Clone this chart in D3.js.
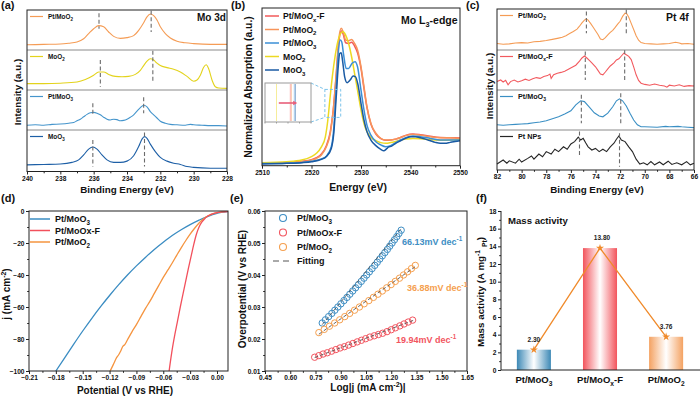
<!DOCTYPE html>
<html>
<head>
<meta charset="utf-8">
<script src="https://cdn.jsdelivr.net/npm/d3@7"></script>
<style>
  body { margin: 0; background: #fff; }
  svg { display: block; font-family: "Liberation Sans", Arial, sans-serif; font-weight: bold; }
</style>
</head>
<body>
<svg id="fig" width="700" height="397"></svg>
<script>
const FONT = '"Liberation Sans", Arial, sans-serif';

// ---------- (a) Mo 3d XPS, [binding energy, intensity a.u.] ----------
const aPtMoO2 = [[240,13],[239,14],[238,15],[237.5,17],[237,20],[236.6,28],[236.3,41],[236.0,53],[235.7,61],[235.4,58],[235.1,45],[234.8,34],[234.4,29],[234.0,31],[233.6,36],[233.3,49],[233.0,68],[232.8,83],[232.6,90],[232.4,86],[232.2,75],[232.0,58],[231.7,41],[231.4,30],[231.0,22],[230.5,18],[230,16],[229,14],[228,14]];
const aMoO2 = [[240,16],[239,16],[238,17],[237,20],[236.5,26],[236.0,37],[235.7,45],[235.4,45],[235.1,39],[234.7,34],[234.3,33],[233.9,34],[233.5,39],[233.2,49],[233.0,61],[232.8,72],[232.6,78],[232.4,75],[232.2,67],[232.0,61],[231.6,56],[231.2,52],[230.8,45],[230.4,34],[230.0,22],[229.8,25],[229.6,37],[229.4,57],[229.25,63],[229.1,53],[228.9,25],[228.7,8],[228.5,5],[228,4]];
const aPtMoO3 = [[240,12],[239.5,13],[239,12],[238.5,14],[238,15],[237.5,17],[237.2,19],[237,23],[236.8,27],[236.6,33],[236.4,39],[236.2,43],[236.0,44],[235.8,42],[235.6,38],[235.4,32],[235.2,27],[235.0,25],[234.8,27],[234.6,26],[234.4,23],[234.2,24],[234.0,27],[233.8,32],[233.6,38],[233.4,47],[233.2,56],[233.0,62],[232.8,58],[232.6,46],[232.4,38],[232.2,30],[232.0,22],[231.7,17],[231.4,14],[231.0,13],[230.5,12],[230.2,14],[230,13],[229.5,12],[229,11],[228.5,11],[228,10]];
const aMoO3 = [[240,16],[239,17],[238,18],[237.3,22],[236.9,28],[236.6,40],[236.3,54],[236.05,59],[235.8,54],[235.5,40],[235.2,28],[234.8,22],[234.4,22],[234.0,25],[233.6,38],[233.3,60],[233.1,78],[232.95,84],[232.8,80],[232.6,66],[232.3,48],[232.0,34],[231.6,25],[231.2,20],[230.8,17],[230.4,12],[230,10],[229,8],[228,8]];
// dashed peak markers [energy, top, bottom]
const aDashes = [
  [[235.68,92,53],[232.55,98,45]],
  [[235.6,75,8],[232.45,98,20]],
  [[236.05,67,35],[233.0,82,42]],
  [[236.05,76,12],[232.95,94,12]]
];
const aNames = ["Pt/MoO_{2}", "MoO_{2}", "Pt/MoO_{3}", "MoO_{3}"];
const aTicks = [240,238,236,234,232,230,228];
const aMinor = [239,237,235,233,231,229];

// ---------- (b) Mo L3-edge XANES, [energy eV, normalized absorption] ----------
const bPtMoOxF = [[2510,0],[2515,0.04],[2518,0.09],[2520,0.16],[2521,0.24],[2522,0.40],[2523,0.76],[2523.8,1.36],[2524.4,2.29],[2525,3.79],[2525.5,5.14],[2526,5.69],[2526.4,5.54],[2526.9,5.17],[2527.5,5.14],[2528.1,5.19],[2528.7,5.03],[2529.3,4.74],[2530,4.07],[2530.6,3.21],[2531.2,2.40],[2532,1.69],[2533,1.26],[2534,1.06],[2535,0.99],[2536,1.00],[2537,1.04],[2538,1.11],[2539,1.20],[2540.5,1.26],[2542,1.23],[2544,1.16],[2546,1.11],[2548,1.10],[2550,1.09]];
const bPtMoO2 = [[2510,0],[2515,0.03],[2518,0.07],[2520,0.14],[2521,0.21],[2522,0.36],[2523,0.71],[2523.8,1.29],[2524.4,2.29],[2525,3.86],[2525.5,5.29],[2526,5.79],[2526.4,5.64],[2526.9,5.29],[2527.5,5.26],[2528.1,5.31],[2528.7,5.14],[2529.3,4.86],[2530,4.14],[2530.6,3.29],[2531.2,2.43],[2532,1.71],[2533,1.29],[2534,1.07],[2535,1.00],[2536,1.00],[2537,1.04],[2538,1.11],[2539,1.19],[2540.5,1.24],[2542,1.21],[2544,1.14],[2546,1.10],[2548,1.10],[2550,1.07]];
const bPtMoO3 = [[2510,-0.01],[2515,0.01],[2518,0.04],[2520,0.09],[2522,0.19],[2523,0.31],[2524,0.71],[2524.5,1.50],[2525,3.29],[2525.4,4.71],[2525.8,5.29],[2526.1,5.21],[2526.5,4.64],[2527,4.07],[2527.5,4.07],[2528.2,4.29],[2528.8,4.36],[2529.3,4.14],[2530,3.14],[2530.6,2.29],[2531.2,1.64],[2532,1.21],[2533,0.93],[2534,0.79],[2535,0.71],[2536,0.76],[2537,0.89],[2538,1.00],[2539,1.10],[2540.5,1.17],[2542,1.14],[2544,1.07],[2546,1.00],[2548,1.00],[2550,1.00]];
const bMoO2 = [[2510,0.03],[2515,0.07],[2518,0.14],[2520,0.29],[2521,0.43],[2522,0.71],[2522.8,1.14],[2523.3,1.86],[2523.7,2.71],[2524.2,3.71],[2524.8,4.64],[2525.4,5.29],[2526,5.60],[2526.4,5.64],[2526.9,5.50],[2527.5,5.14],[2528.1,4.57],[2528.7,3.86],[2529.3,3.14],[2530,2.29],[2530.6,1.71],[2531.2,1.36],[2532,1.11],[2533,0.97],[2534,0.89],[2535,0.86],[2536,0.89],[2537,0.94],[2538,1.00],[2539,1.04],[2540.5,1.07],[2542,1.06],[2544,1.01],[2546,0.99],[2548,1.00],[2550,1.01]];
const bMoO3 = [[2510,-0.03],[2515,0],[2518,0.03],[2520,0.07],[2522,0.17],[2523,0.29],[2524,0.64],[2524.5,1.29],[2525,2.86],[2525.4,4.14],[2525.7,4.71],[2526,4.74],[2526.3,4.36],[2526.7,3.71],[2527.2,3.46],[2527.8,3.57],[2528.4,3.74],[2528.9,3.71],[2529.4,3.36],[2530,2.57],[2530.6,1.86],[2531.2,1.36],[2532,1.00],[2533,0.76],[2534,0.60],[2534.6,0.54],[2535.2,0.63],[2535.6,0.71],[2536.2,0.74],[2537,0.86],[2538,0.97],[2539,1.07],[2540,1.14],[2541,1.14],[2542,1.10],[2543,1.04],[2544,0.97],[2545,0.90],[2546,0.86],[2547,0.86],[2548,0.90],[2549,0.94],[2550,0.97]];
const bNames = ["Pt/MoO_{x}-F", "Pt/MoO_{2}", "Pt/MoO_{3}", "MoO_{2}", "MoO_{3}"];
const bEdges = [2524.2, 2524.3, 2524.55, 2523.0, 2524.65]; // inset edge positions, same order
const bZoomBox = [2522.7, 2525.9, 1.97, 3.17];
const bTicks = [2510,2520,2530,2540,2550];
const bMinor = [2515,2525,2535,2545];

// ---------- (c) Pt 4f XPS ----------
const cPtMoO2 = [[82,16],[81.5,14],[81,15],[80.5,17],[80,18],[79.5,17],[79,20],[78.5,21],[78,23],[77.5,26],[77,29],[76.7,31],[76.4,35],[76.1,40],[75.8,45],[75.5,51],[75.3,58],[75.1,66],[74.9,73],[74.75,76],[74.6,73],[74.4,65],[74.2,56],[74.0,47],[73.8,38],[73.6,27],[73.4,25],[73.2,30],[73.0,37],[72.8,43],[72.6,48],[72.4,55],[72.2,63],[72.0,70],[71.8,82],[71.6,90],[71.45,88],[71.3,80],[71.1,65],[70.9,50],[70.7,35],[70.5,24],[70.3,18],[70,16],[69.5,15],[69,14],[68.5,15],[68,16],[67.5,19],[67.2,17],[67,15],[66.5,16],[66,14]];
const cPtMoOxF = [[82,21],[81.7,25],[81.5,20],[81.3,24],[81.1,13],[80.9,21],[80.6,25],[80.3,20],[80,23],[79.7,27],[79.4,24],[79.1,28],[78.8,31],[78.5,29],[78.2,34],[77.9,36],[77.7,40],[77.6,29],[77.4,38],[77.1,42],[76.8,44],[76.5,47],[76.2,52],[75.9,57],[75.6,62],[75.3,72],[75.1,80],[74.9,85],[74.7,80],[74.5,74],[74.3,68],[74.0,58],[73.8,49],[73.6,40],[73.4,38],[73.2,45],[73.0,53],[72.8,60],[72.5,68],[72.3,75],[72.1,78],[71.9,85],[71.7,92],[71.5,88],[71.3,84],[71.1,76],[70.9,58],[70.7,38],[70.5,24],[70.3,17],[70,14],[69.6,12],[69.2,15],[68.8,12],[68.4,10],[68.2,7],[68,12],[67.6,10],[67.2,13],[66.8,9],[66.4,11],[66,10]];
const cPtMoO3 = [[82,13],[81.5,12],[81,13],[80.5,14],[80,15],[79.5,16],[79,18],[78.5,20],[78,23],[77.5,28],[77,33],[76.5,40],[76,48],[75.6,63],[75.2,73],[74.9,71],[74.5,57],[74.1,43],[73.7,35],[73.4,33],[73.0,42],[72.6,58],[72.3,73],[72.05,78],[71.8,73],[71.5,60],[71.2,42],[70.9,25],[70.6,13],[70.3,8],[70,8],[69,7],[68.3,9],[68,8],[67.3,9],[67,8],[66.5,7],[66,6]];
const cPtNPs = [[82,15],[81.5,25],[81.2,17],[81,23],[80.5,17],[80.2,27],[80,20],[79.5,29],[79.2,35],[79,27],[78.6,40],[78.3,33],[78,46],[77.6,40],[77.3,52],[77,46],[76.6,58],[76.3,52],[76,65],[75.7,71],[75.4,82],[75.2,75],[75.0,79],[74.8,68],[74.6,58],[74.3,50],[74.0,54],[73.7,46],[73.4,52],[73.1,46],[72.8,58],[72.5,67],[72.3,77],[72.1,85],[71.9,75],[71.6,71],[71.3,58],[71.0,46],[70.7,27],[70.4,15],[70.1,18],[69.8,13],[69.5,21],[69.2,13],[68.8,20],[68.5,13],[68.1,22],[67.8,14],[67.4,18],[67.0,13],[66.6,21],[66.3,13],[66.0,17]];
const cDashes = [
  [[74.74,94,41],[71.5,98,37]],
  [[74.83,96,25],[71.63,100,25]],
  [[75.15,88,17],[71.95,92,13]],
  [[75.3,96,33],[72.05,92,8]]
];
const cNames = ["Pt/MoO_{2}", "Pt/MoO_{x}-F", "Pt/MoO_{3}", "Pt NPs"];
const cTicks = [82,80,78,76,74,72,70,68,66];
const cMinor = [81,79,77,75,73,71,69,67];

// ---------- (d) LSV, [potential V vs RHE, j mA cm-2] ----------
const dPtMoO3 = [[0.012,-0.3],[0.005,-0.8],[0,-1.5],[-0.005,-2.3],[-0.01,-3.3],[-0.015,-4.4],[-0.02,-5.7],[-0.03,-8.5],[-0.04,-11.7],[-0.05,-15.3],[-0.06,-19.5],[-0.07,-24],[-0.08,-29],[-0.09,-34.3],[-0.1,-40],[-0.11,-46.2],[-0.12,-52.8],[-0.13,-59.8],[-0.14,-67.2],[-0.15,-75],[-0.16,-83.2],[-0.17,-91.6],[-0.18,-100]];
const dPtMoOxF = [[0.012,-0.3],[0.005,-0.6],[0,-1],[-0.005,-1.8],[-0.008,-2.5],[-0.011,-3.5],[-0.014,-5],[-0.017,-7],[-0.02,-10],[-0.023,-14.5],[-0.026,-21],[-0.029,-28.5],[-0.032,-36],[-0.035,-44],[-0.038,-52],[-0.041,-60],[-0.044,-68.5],[-0.047,-77],[-0.05,-86.5],[-0.053,-98],[-0.0535,-100]];
const dPtMoO2 = [[0.012,-0.2],[0.005,-0.5],[0,-1],[-0.005,-1.8],[-0.01,-3],[-0.015,-4.8],[-0.02,-7.5],[-0.025,-10.8],[-0.03,-14.5],[-0.035,-18.6],[-0.04,-23],[-0.045,-27.7],[-0.05,-32.5],[-0.055,-37],[-0.06,-41.5],[-0.065,-46.5],[-0.07,-51.5],[-0.075,-56.5],[-0.08,-61],[-0.085,-66],[-0.09,-71],[-0.095,-75.5],[-0.1,-80.5],[-0.103,-83.5],[-0.105,-84.5],[-0.108,-88],[-0.11,-90],[-0.112,-91.5],[-0.115,-95],[-0.118,-98.5],[-0.1195,-100]];
const dNames = ["Pt/MoO_{3}", "Pt/MoOx-F", "Pt/MoO_{2}"];
const dTicksX = [-0.21,-0.18,-0.15,-0.12,-0.09,-0.06,-0.03,0];
const dMinorX = [-0.195,-0.165,-0.135,-0.105,-0.075,-0.045,-0.015];
const dTicksY = [0,-20,-40,-60,-80,-100];
const dMinorY = [-10,-30,-50,-70,-90];

// ---------- (e) Tafel, [log|j|, overpotential V] ----------
const ePtMoO3 = [[0.790,0.025],[0.809,0.026],[0.828,0.027],[0.847,0.028],[0.865,0.029],[0.883,0.030],[0.901,0.031],[0.919,0.032],[0.937,0.033],[0.954,0.034],[0.971,0.035],[0.988,0.036],[1.005,0.037],[1.022,0.038],[1.038,0.039],[1.054,0.040],[1.070,0.041],[1.086,0.042],[1.102,0.043],[1.117,0.044],[1.132,0.045],[1.147,0.046],[1.162,0.047],[1.177,0.048],[1.191,0.049],[1.205,0.050],[1.219,0.051],[1.233,0.052],[1.246,0.053],[1.259,0.054]];
const ePtMoOxF = [[0.745,0.0143],[0.770,0.0148],[0.795,0.0153],[0.820,0.0157],[0.846,0.0162],[0.871,0.0167],[0.896,0.0172],[0.922,0.0176],[0.947,0.0181],[0.972,0.0186],[0.998,0.0191],[1.023,0.0196],[1.048,0.0201],[1.073,0.0206],[1.099,0.0210],[1.124,0.0214],[1.149,0.0218],[1.175,0.0223],[1.200,0.0229],[1.225,0.0235],[1.251,0.0241],[1.276,0.0247],[1.301,0.0253],[1.327,0.0259]];
const ePtMoO2 = [[0.770,0.022],[0.802,0.023],[0.833,0.024],[0.864,0.025],[0.894,0.026],[0.924,0.027],[0.953,0.028],[0.982,0.029],[1.011,0.030],[1.039,0.031],[1.067,0.032],[1.094,0.033],[1.121,0.034],[1.147,0.035],[1.173,0.036],[1.199,0.037],[1.224,0.038],[1.249,0.039],[1.273,0.040],[1.297,0.041],[1.320,0.042],[1.343,0.043]];
const eFits = [[[0.79,0.0245],[1.26,0.0545]], [[0.745,0.0142],[1.33,0.0258]], [[0.77,0.0215],[1.34,0.0425]]];
const eSlopes = ["66.13mV dec^{-1}", "19.94mV dec^{-1}", "36.88mV dec^{-1}"];
const eNames = ["Pt/MoO_{3}", "Pt/MoOx-F", "Pt/MoO_{2}"];
const eTicksX = [0.45,0.60,0.75,0.90,1.05,1.20,1.35,1.50,1.65];
const eMinorX = [0.525,0.675,0.825,0.975,1.125,1.275,1.425,1.575];
const eTicksY = [0.01,0.02,0.03,0.04,0.05,0.06];
const eMinorY = [0.015,0.025,0.035,0.045,0.055];

// ---------- (f) mass activity ----------
const fCats = ["Pt/MoO_{3}", "Pt/MoO_{x}-F", "Pt/MoO_{2}"];
const fVals = [2.30, 13.80, 3.76];
const fTicksY = [0,2,4,6,8,10,12,14,16,18];
const fMinorY = [1,3,5,7,9,11,13,15,17];

// ---------- colours ----------
const C = {
  orange: "#f59c55", yellow: "#e3d31c", lblue: "#4595cc", dblue: "#1d5fa6",
  red: "#f2545c", black: "#262626", dorange: "#f08a2a"
};

const svg = d3.select("#fig");
svg.append("rect").attr("width", 700).attr("height", 397).attr("fill", "#fff");

// text with _{sub} and ^{sup}
function rich(sel, str, fs) {
  const parts = str.split(/(_\{[^}]*\}|\^\{[^}]*\})/).filter(Boolean);
  let cur = 0;
  parts.forEach(p => {
    let t = p, off = 0, size = fs;
    if (p.startsWith("_{")) { t = p.slice(2, -1); off = fs * 0.3; size = fs * 0.7; }
    else if (p.startsWith("^{")) { t = p.slice(2, -1); off = -fs * 0.42; size = fs * 0.7; }
    sel.append("tspan").attr("dy", off - cur).attr("font-size", size).text(t);
    cur = off;
  });
  return sel;
}

function label(x, y, str, fs, opt = {}) {
  const t = svg.append("text")
    .attr("transform", opt.rot ? `translate(${x},${y}) rotate(-90)` : `translate(${x},${y})`)
    .attr("text-anchor", opt.anchor || "start")
    .attr("fill", opt.color || "#111")
    .attr("font-size", fs);
  return rich(t, str, fs);
}

function axisB(x, y, majors, minors, fmt) {
  const g = svg.append("g").attr("transform", `translate(0,${y})`)
    .call(d3.axisBottom(x).tickValues(majors).tickSize(3).tickPadding(1.5).tickFormat(fmt));
  g.attr("font-family", FONT).attr("font-size", 6.6);
  g.select(".domain").remove();
  g.selectAll("text").attr("fill", "#111");
  g.selectAll("line").attr("stroke", "#222");
  if (minors) {
    const m = svg.append("g").attr("transform", `translate(0,${y})`)
      .call(d3.axisBottom(x).tickValues(minors).tickSize(1.8).tickFormat(""));
    m.select(".domain").remove();
    m.selectAll("line").attr("stroke", "#222");
  }
}

function axisL(y, x, majors, minors, fmt) {
  const g = svg.append("g").attr("transform", `translate(${x},0)`)
    .call(d3.axisLeft(y).tickValues(majors).tickSize(3).tickPadding(1.5).tickFormat(fmt));
  g.attr("font-family", FONT).attr("font-size", 6.6);
  g.select(".domain").remove();
  g.selectAll("text").attr("fill", "#111");
  g.selectAll("line").attr("stroke", "#222");
  if (minors) {
    const m = svg.append("g").attr("transform", `translate(${x},0)`)
      .call(d3.axisLeft(y).tickValues(minors).tickSize(1.8).tickFormat(""));
    m.select(".domain").remove();
    m.selectAll("line").attr("stroke", "#222");
  }
}

function frame(x0, y0, x1, y1) {
  svg.append("rect").attr("x", x0).attr("y", y0).attr("width", x1 - x0).attr("height", y1 - y0)
    .attr("fill", "none").attr("stroke", "#222").attr("stroke-width", 1);
}

// stacked XPS panel
function stacked(opt) {
  const x = d3.scaleLinear().domain(opt.domain).range(opt.xr);
  const rows = opt.rows;
  opt.series.forEach((s, i) => {
    const y = d3.scaleLinear().domain([0, 100]).range([rows[i + 1], rows[i]]);
    const line = d3.line().x(d => x(d[0])).y(d => y(d[1])).curve(opt.curve);
    svg.append("path").datum(s).attr("d", line).attr("fill", "none")
      .attr("stroke", opt.colors[i]).attr("stroke-width", 1.1);
    svg.selectAll(null).data(opt.dashes[i]).join("line")
      .attr("x1", d => x(d[0])).attr("x2", d => x(d[0]))
      .attr("y1", d => y(d[1])).attr("y2", d => y(d[2]))
      .attr("stroke", "#6b6b6b").attr("stroke-width", 1.1).attr("stroke-dasharray", "4,2.5");
    const ly = rows[i] + 6.5;
    svg.append("line").attr("x1", opt.xr[0] + 3).attr("x2", opt.xr[0] + 16)
      .attr("y1", ly).attr("y2", ly).attr("stroke", opt.colors[i]).attr("stroke-width", 1.2);
    label(opt.xr[0] + 21, ly + 2.5, opt.names[i], opt.legendFs);
  });
  rows.slice(1, -1).forEach(r => {
    svg.append("line").attr("x1", opt.xr[0]).attr("x2", opt.xr[1]).attr("y1", r).attr("y2", r)
      .attr("stroke", "#8a8a8a").attr("stroke-width", 1);
  });
  frame(opt.xr[0], rows[0], opt.xr[1], rows[rows.length - 1]);
  axisB(x, rows[rows.length - 1], opt.ticks, opt.minor, d3.format("d"));
}

// ---------- panel (a) ----------
stacked({
  domain: [240, 228], xr: [27, 227], rows: [10, 50, 90, 130, 171.5],
  series: [aPtMoO2, aMoO2, aPtMoO3, aMoO3], dashes: aDashes, names: aNames,
  colors: [C.orange, C.yellow, C.lblue, C.dblue], ticks: aTicks, minor: aMinor,
  legendFs: 6.4, curve: d3.curveMonotoneX
});
label(197, 21, "Mo 3d", 10);
label(21, 92, "Intensity (a.u.)", 9.8, { rot: true, anchor: "middle" });
label(127, 193, "Binding Energy (eV)", 9.8, { anchor: "middle" });
label(1, 9, "(a)", 11);

// ---------- panel (c) ----------
stacked({
  domain: [82, 66], xr: [497, 694], rows: [9, 50, 90, 130, 170],
  series: [cPtMoO2, cPtMoOxF, cPtMoO3, cPtNPs], dashes: cDashes, names: cNames,
  colors: [C.orange, "#f25a5f", "#3a8fc4", C.black], ticks: cTicks, minor: cMinor,
  legendFs: 7.2, curve: d3.curveLinear
});
label(666, 21, "Pt 4f", 10.5);
label(493, 86, "Intensity (a.u.)", 9.8, { rot: true, anchor: "middle" });
label(597, 193, "Binding Energy (eV)", 9.8, { anchor: "middle" });
label(466, 9, "(c)", 11);

// ---------- panel (b) ----------
{
  const x = d3.scaleLinear().domain([2510, 2550]).range([262, 460]);
  const y = d3.scaleLinear().domain([-0.1, 6.66]).range([165.7, 8]);
  const line = d3.line().x(d => x(d[0])).y(d => y(d[1])).curve(d3.curveMonotoneX);
  const series = [bPtMoOxF, bPtMoO2, bPtMoO3, bMoO2, bMoO3];
  const cols = ["#f25a5a", "#f7945a", "#3b8fd6", "#ecd923", "#1a5aa3"];
  [0, 1, 3, 2, 4].forEach(i => {
    svg.append("path").datum(series[i]).attr("d", line).attr("fill", "none")
      .attr("stroke", cols[i]).attr("stroke-width", 1.5);
  });
  frame(262, 8, 460, 165.7);
  axisB(x, 165.7, bTicks, bMinor, d3.format("d"));

  // zoom box + inset
  const zb = bZoomBox;
  const bx0 = x(zb[0]), bx1 = x(zb[1]), by0 = y(zb[3]), by1 = y(zb[2]);
  const dashC = "#7cc3ea";
  svg.append("rect").attr("x", bx0).attr("y", by0).attr("width", bx1 - bx0).attr("height", by1 - by0)
    .attr("fill", "none").attr("stroke", dashC).attr("stroke-width", 1).attr("stroke-dasharray", "3,2");
  const ix0 = 265, ix1 = 311, iy0 = 83, iy1 = 122;
  svg.append("line").attr("x1", ix1).attr("y1", iy0).attr("x2", bx0).attr("y2", by0)
    .attr("stroke", dashC).attr("stroke-dasharray", "3,2");
  svg.append("line").attr("x1", ix1).attr("y1", iy1).attr("x2", bx0).attr("y2", by1)
    .attr("stroke", dashC).attr("stroke-dasharray", "3,2");
  svg.append("rect").attr("x", ix0).attr("y", iy0).attr("width", ix1 - ix0).attr("height", iy1 - iy0)
    .attr("fill", "#fff").attr("stroke", "#9a9a9a").attr("stroke-width", 1);
  const xi = d3.scaleLinear().domain([2522, 2526]).range([ix0, ix1]);
  svg.selectAll(null).data([2522, 2523, 2524, 2525, 2526]).join("line")
    .attr("x1", d => xi(d)).attr("x2", d => xi(d)).attr("y1", iy1).attr("y2", iy1 + 1.5)
    .attr("stroke", "#9a9a9a");
  svg.selectAll(null).data(bEdges).join("line")
    .attr("x1", d => xi(d)).attr("x2", d => xi(d)).attr("y1", iy0 + 1).attr("y2", iy1 - 1)
    .attr("stroke", (d, i) => cols[i]).attr("stroke-width", 1).attr("opacity", 0.45);
  const ay = 103;
  svg.append("line").attr("x1", xi(2523.2)).attr("x2", xi(2524.7)).attr("y1", ay).attr("y2", ay)
    .attr("stroke", "#e8607a").attr("stroke-width", 1.6);
  svg.append("path").attr("d", `M${xi(2524.8)},${ay} l-4,-2.2 l0,4.4 z`).attr("fill", "#e8607a");

  // legend
  bNames.forEach((n, i) => {
    const ly = 16 + i * 13.5;
    svg.append("line").attr("x1", 265).attr("x2", 279).attr("y1", ly).attr("y2", ly)
      .attr("stroke", cols[i]).attr("stroke-width", 1.5);
    label(283, ly + 3, n, 8.6);
  });
  label(401, 24, "Mo L_{3}-edge", 10.5);
  label(252, 87, "Normalized Absorption (a.u.)", 10.4, { rot: true, anchor: "middle" });
  label(358, 191, "Energy (eV)", 10.4, { anchor: "middle" });
  label(231, 9, "(b)", 11);
}

// ---------- panel (d) ----------
{
  const x = d3.scaleLinear().domain([-0.21, 0.0123]).range([29, 228]);
  const y = d3.scaleLinear().domain([-100, 0]).range([371, 211]);
  svg.append("defs").append("clipPath").attr("id", "clipD").append("rect")
    .attr("x", 29).attr("y", 211).attr("width", 199).attr("height", 160);
  const line = d3.line().x(d => x(d[0])).y(d => y(d[1])).curve(d3.curveMonotoneX);
  const series = [dPtMoO3, dPtMoOxF, dPtMoO2];
  const cols = ["#3a8cc2", "#f2505c", "#f5943f"];
  [0, 2, 1].forEach(i => {
    svg.append("path").datum(series[i].slice().reverse()).attr("d", line).attr("fill", "none")
      .attr("clip-path", "url(#clipD)").attr("stroke", cols[i]).attr("stroke-width", 1.3);
  });
  frame(29, 211, 228, 371);
  axisB(x, 371, dTicksX, dMinorX, d3.format(".2f"));
  axisL(y, 29, dTicksY, dMinorY, d3.format("d"));
  dNames.forEach((n, i) => {
    const ly = 219 + i * 11.5;
    svg.append("line").attr("x1", 30).attr("x2", 50).attr("y1", ly).attr("y2", ly)
      .attr("stroke", cols[i]).attr("stroke-width", 1.5);
    label(55, ly + 3.3, n, 9);
  });
  label(10, 294, "j (mA cm^{-2})", 10, { rot: true, anchor: "middle" });
  label(125, 394, "Potential (V vs RHE)", 10, { anchor: "middle" });
  label(1, 202, "(d)", 11);
}

// ---------- panel (e) ----------
{
  const x = d3.scaleLinear().domain([0.45, 1.65]).range([265, 467]);
  const y = d3.scaleLinear().domain([0.01, 0.06]).range([371, 211]);
  const series = [ePtMoO3, ePtMoOxF, ePtMoO2];
  const cols = ["#3e8ec4", "#f2555f", "#f5a050"];
  series.forEach((s, i) => {
    svg.selectAll(null).data(s).join("circle")
      .attr("cx", d => x(d[0])).attr("cy", d => y(d[1])).attr("r", 3.2)
      .attr("fill", "none").attr("stroke", cols[i]).attr("stroke-width", 1);
  });
  const fl = d3.line().x(d => x(d[0])).y(d => y(d[1]));
  eFits.forEach(f => {
    svg.append("path").attr("d", fl(f)).attr("stroke", "#555").attr("stroke-width", 0.9)
      .attr("stroke-dasharray", "3.5,2.5").attr("fill", "none");
  });
  frame(265, 211, 467, 371);
  axisB(x, 371, eTicksX, eMinorX, d3.format(".2f"));
  axisL(y, 265, eTicksY, eMinorY, d3.format(".2f"));
  eNames.forEach((n, i) => {
    const ly = 218 + i * 14.5;
    svg.append("circle").attr("cx", 283).attr("cy", ly).attr("r", 3.5)
      .attr("fill", "none").attr("stroke", cols[i]).attr("stroke-width", 1.1);
    label(297, ly + 3.3, n, 9);
  });
  svg.append("line").attr("x1", 273).attr("x2", 292).attr("y1", 261).attr("y2", 261)
    .attr("stroke", "#555").attr("stroke-dasharray", "6,4");
  label(297, 264.3, "Fitting", 9);
  label(402, 245, eSlopes[0], 9, { color: cols[0] });
  label(396, 343, eSlopes[1], 9, { color: cols[1] });
  label(407, 291, eSlopes[2], 9, { color: cols[2] });
  label(246, 289, "Overpotential (V vs RHE)", 10, { rot: true, anchor: "middle" });
  label(368, 391, "Log|j (mA cm^{-2})|", 10, { anchor: "middle" });
  label(230, 202, "(e)", 11);
}

// ---------- panel (f) ----------
{
  const x = d3.scaleBand().domain(fCats).range([501, 699]).paddingInner(0.485).paddingOuter(0.24);
  const y = d3.scaleLinear().domain([0, 18]).range([370, 211]);
  const cols = ["#3d89b6", "#f2545c", "#f4a262"];
  const defs = svg.append("defs");
  cols.forEach((c, i) => {
    const g = defs.append("linearGradient").attr("id", "gf" + i).attr("x1", 0).attr("x2", 1).attr("y1", 0).attr("y2", 0);
    g.append("stop").attr("offset", 0).attr("stop-color", c);
    g.append("stop").attr("offset", 0.5).attr("stop-color", "#fff");
    g.append("stop").attr("offset", 1).attr("stop-color", c);
  });
  svg.selectAll(null).data(fVals).join("rect")
    .attr("x", (d, i) => x(fCats[i])).attr("width", x.bandwidth())
    .attr("y", d => y(d)).attr("height", d => y(0) - y(d))
    .attr("fill", (d, i) => `url(#gf${i})`);
  const pts = fVals.map((v, i) => [x(fCats[i]) + x.bandwidth() / 2, y(v)]);
  svg.append("path").attr("d", d3.line()(pts)).attr("fill", "none")
    .attr("stroke", C.dorange).attr("stroke-width", 1.3);
  svg.selectAll(null).data(pts).join("path")
    .attr("transform", d => `translate(${d[0]},${d[1]})`)
    .attr("d", d3.symbol(d3.symbolStar, 20)).attr("fill", C.dorange);
  fVals.forEach((v, i) => {
    label(pts[i][0] + (i === 1 ? 2 : 0), pts[i][1] - 8, d3.format(".2f")(v), 6.5, { anchor: "middle", color: "#222" });
  });
  svg.append("line").attr("x1", 501).attr("x2", 501).attr("y1", 211).attr("y2", 370).attr("stroke", "#222");
  svg.append("line").attr("x1", 501).attr("x2", 700).attr("y1", 370).attr("y2", 370).attr("stroke", "#222");
  axisL(y, 501, fTicksY, fMinorY, d3.format("d"));
  fCats.forEach(c => label(x(c) + x.bandwidth() / 2, 383, c, 9.5, { anchor: "middle" }));
  label(508, 224, "Mass activity", 9.6);
  label(484, 292, "Mass activity (A mg^{-1} _{Pt})", 9.8, { rot: true, anchor: "middle" });
  label(476, 202, "(f)", 11);
}
</script>
</body>
</html>
